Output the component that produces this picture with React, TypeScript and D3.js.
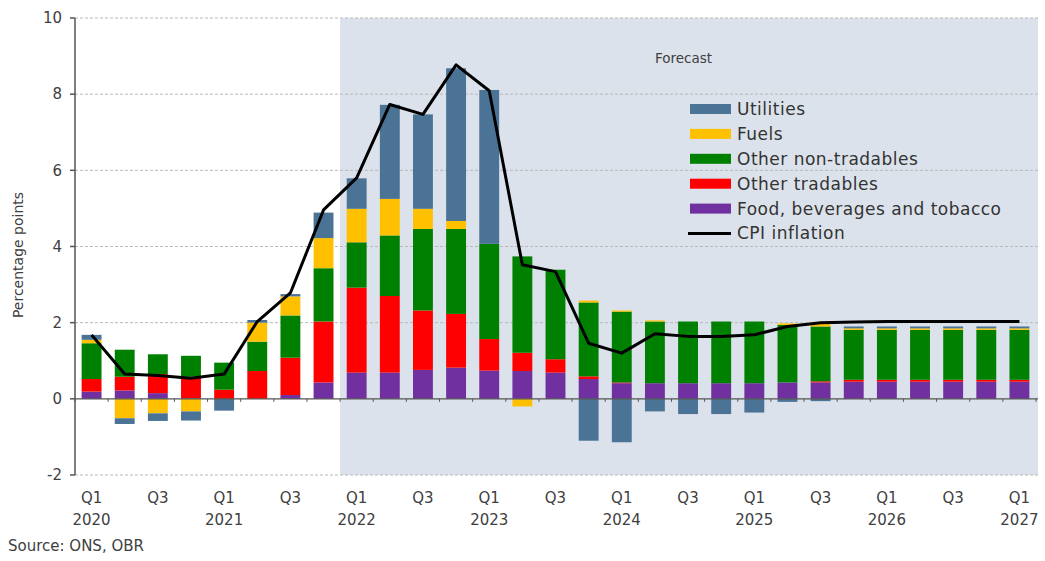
import * as d3 from "d3";

// quarters Q1 2020 .. Q1 2027
const quarters = [
  "2020 Q1", "2020 Q2", "2020 Q3", "2020 Q4",
  "2021 Q1", "2021 Q2", "2021 Q3", "2021 Q4",
  "2022 Q1", "2022 Q2", "2022 Q3", "2022 Q4",
  "2023 Q1", "2023 Q2", "2023 Q3", "2023 Q4",
  "2024 Q1", "2024 Q2", "2024 Q3", "2024 Q4",
  "2025 Q1", "2025 Q2", "2025 Q3", "2025 Q4",
  "2026 Q1", "2026 Q2", "2026 Q3", "2026 Q4",
  "2027 Q1",
];

const food = [0.19, 0.22, 0.15, 0.02, 0.0, 0.0, 0.1, 0.43, 0.69, 0.69, 0.76, 0.82, 0.74, 0.73, 0.69, 0.52, 0.41, 0.41, 0.41, 0.41, 0.41, 0.43, 0.43, 0.45, 0.45, 0.45, 0.45, 0.45, 0.45];
const otherTradables = [0.33, 0.36, 0.5, 0.56, 0.24, 0.73, 0.98, 1.6, 2.23, 2.01, 1.56, 1.41, 0.83, 0.48, 0.35, 0.07, 0.02, 0, 0, 0, 0, 0, 0.03, 0.05, 0.05, 0.05, 0.05, 0.05, 0.05];
const otherNonTradables = [0.94, 0.71, 0.52, 0.55, 0.71, 0.77, 1.11, 1.4, 1.19, 1.59, 2.14, 2.23, 2.5, 2.53, 2.35, 1.94, 1.86, 1.62, 1.62, 1.62, 1.62, 1.51, 1.44, 1.31, 1.31, 1.31, 1.31, 1.31, 1.31];
const fuels = [0.09, -0.51, -0.38, -0.33, 0, 0.5, 0.5, 0.79, 0.88, 0.96, 0.53, 0.21, 0, -0.2, 0, 0.05, 0.03, 0.03, 0, 0, 0, 0.04, 0.1, 0.04, 0.04, 0.04, 0.04, 0.04, 0.04];
const utilities = [0.13, -0.15, -0.2, -0.24, -0.31, 0.07, 0.06, 0.67, 0.8, 2.47, 2.48, 4.01, 4.04, 0, 0, -1.1, -1.14, -0.33, -0.4, -0.4, -0.36, -0.08, -0.06, 0.05, 0.05, 0.05, 0.05, 0.05, 0.05];
const cpi = [1.68, 0.65, 0.61, 0.54, 0.65, 2.03, 2.78, 4.96, 5.8, 7.73, 7.47, 8.77, 8.09, 3.52, 3.34, 1.46, 1.2, 1.71, 1.64, 1.64, 1.68, 1.9, 2.0, 2.02, 2.03, 2.03, 2.03, 2.03, 2.03];

const yTicks = [-2, 0, 2, 4, 6, 8, 10];
const forecastStart = "2022 Q1";

const keys = ["food", "otherTradables", "otherNonTradables", "fuels", "utilities"] as const;
const colors: Record<string, string> = {
  utilities: "#4a7396",
  fuels: "#ffc000",
  otherNonTradables: "#008000",
  otherTradables: "#ff0000",
  food: "#7030a0",
};
const legendItems = [
  { key: "utilities", label: "Utilities" },
  { key: "fuels", label: "Fuels" },
  { key: "otherNonTradables", label: "Other non-tradables" },
  { key: "otherTradables", label: "Other tradables" },
  { key: "food", label: "Food, beverages and tobacco" },
];

const W = 1045, H = 561;
const FONT = "DejaVu Sans, sans-serif";
const TXT = "#404040";

export default function App() {
  const rows = quarters.map((q, i) => ({
    q,
    food: food[i],
    otherTradables: otherTradables[i],
    otherNonTradables: otherNonTradables[i],
    fuels: fuels[i],
    utilities: utilities[i],
  }));

  const x = d3.scaleBand<string>().domain(quarters).range([75, 1036]).paddingInner(0.4).paddingOuter(0.2);
  const y = d3.scaleLinear().domain([-2, 10]).range([475, 18]);
  const step = x.step();
  const half = (step * 0.4) / 2;
  const left = 75, right = 1038;

  const stacked = d3.stack<any>().keys(keys as any).offset(d3.stackOffsetDiverging)(rows);

  const line = d3.line<number>()
    .x((_, i) => (x(quarters[i]) as number) + x.bandwidth() / 2)
    .y(d => y(d));

  const fx = (x(forecastStart) as number) - half;

  return (
    <svg width={W} height={H} style={{ position: "absolute", left: 0, top: 0, background: "#fff" }}
      fontFamily={FONT}>
      {/* forecast shading */}
      <rect x={fx} y={y(10)} width={right - fx} height={y(-2) - y(10)} fill="#dbe2eb" />

      {/* grid */}
      {yTicks.filter(t => t !== 0).map(t => (
        <line key={t} x1={left} x2={right} y1={y(t)} y2={y(t)}
          stroke="#b8b8b8" strokeWidth={1} strokeDasharray="3 2" />
      ))}

      {/* bars */}
      {stacked.map(s => (
        <g key={s.key} fill={colors[s.key]}>
          {s.map((d, i) => {
            const h = Math.abs(y(d[0]) - y(d[1]));
            if (h < 0.01) return null;
            return (
              <rect key={i} x={x(quarters[i])} width={x.bandwidth()}
                y={Math.min(y(d[0]), y(d[1]))} height={h} />
            );
          })}
        </g>
      ))}

      {/* zero axis + ticks */}
      <line x1={left} x2={right} y1={y(0)} y2={y(0)} stroke="#555" strokeWidth={1.2} />
      {quarters.map((q, i) => (
        <line key={q} x1={left + i * step} x2={left + i * step} y1={y(0)} y2={y(0) + 3}
          stroke="#555" strokeWidth={1} />
      ))}
      <line x1={left + quarters.length * step} x2={left + quarters.length * step} y1={y(0)} y2={y(0) + 3}
        stroke="#555" strokeWidth={1} />

      {/* y axis */}
      <line x1={left} x2={left} y1={y(10)} y2={y(-2)} stroke="#555" strokeWidth={1.5} />
      {yTicks.map(t => (
        <g key={t}>
          <line x1={left - 5} x2={left} y1={y(t)} y2={y(t)} stroke="#555" strokeWidth={1.5} />
          <text x={left - 13} y={y(t)} dy="0.35em" textAnchor="end" fontSize={15} fill={TXT}>
            {t}
          </text>
        </g>
      ))}
      <text transform={`translate(23,255) rotate(-90)`} textAnchor="middle" fontSize={14} fill={TXT}>
        Percentage points
      </text>

      {/* x labels */}
      {quarters.map((q, i) => {
        if (i % 2 !== 0) return null;
        const [yr, qq] = q.split(" ");
        const cx = (x(q) as number) + x.bandwidth() / 2;
        return (
          <g key={q} fontSize={15} fill={TXT} textAnchor="middle">
            <text x={cx} y={503}>{qq}</text>
            {qq === "Q1" && <text x={cx} y={525}>{yr}</text>}
          </g>
        );
      })}

      {/* CPI line */}
      <path d={line(cpi) ?? ""} fill="none" stroke="#000" strokeWidth={3} strokeLinejoin="round" />

      {/* legend */}
      <text x={655} y={63} fontSize={13.5} fill={TXT}>Forecast</text>
      {legendItems.map((it, i) => (
        <g key={it.key} transform={`translate(690,${109 + i * 24.9})`}>
          <rect x={0} y={-5} width={41} height={10} fill={colors[it.key]} />
          <text x={47} y={0} dy="0.35em" fontSize={17} letterSpacing={0.5} fill="#333">{it.label}</text>
        </g>
      ))}
      <g transform={`translate(690,${109 + 5 * 24.9})`}>
        <line x1={-2} x2={41} y1={0} y2={0} stroke="#000" strokeWidth={3} />
        <text x={47} y={0} dy="0.35em" fontSize={17} letterSpacing={0.5} fill="#333">CPI inflation</text>
      </g>

      <text x={8} y={551} fontSize={15} fill={TXT}>Source: ONS, OBR</text>
    </svg>
  );
}
